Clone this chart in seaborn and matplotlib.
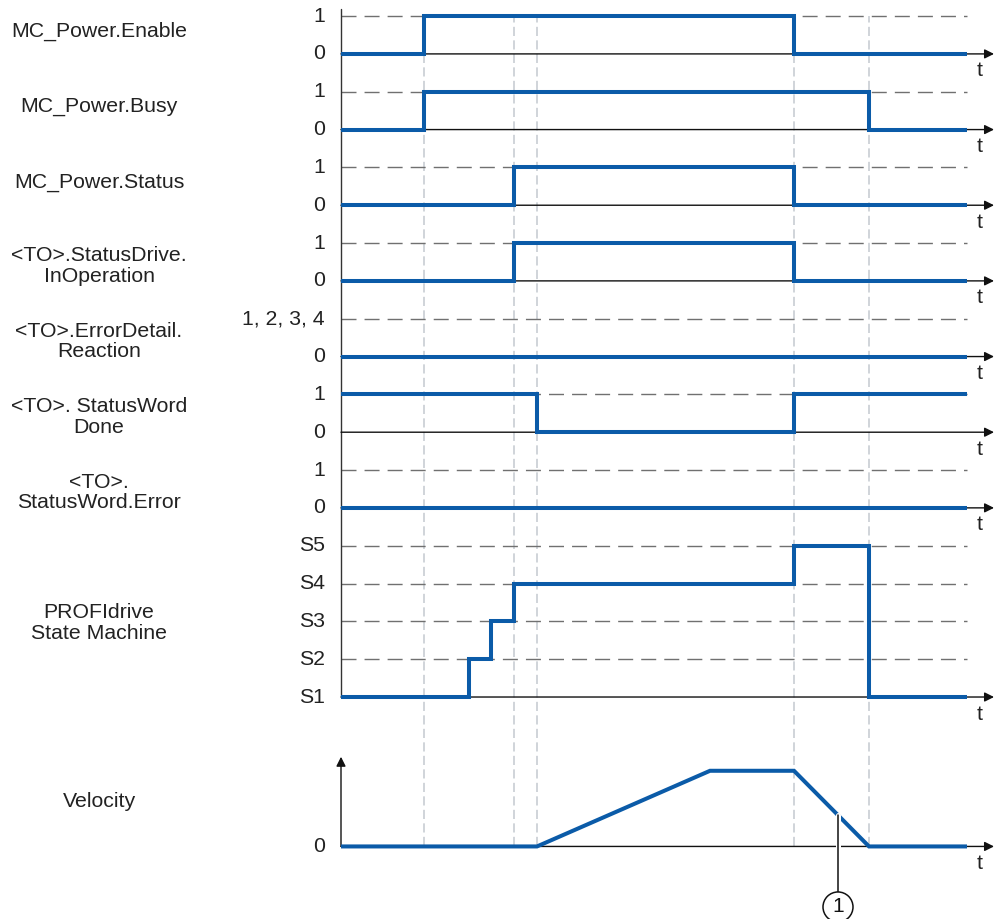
import numpy as np
import matplotlib
matplotlib.use("Agg")
import matplotlib.pyplot as plt
import matplotlib.patheffects as pe
from matplotlib.patches import Ellipse
import seaborn as sns

# ---- signal data -----------------------------------------------------------
# switching instants on the common time axis
times = [0.0, 8.3, 12.8, 15.0, 17.3, 19.6, 36.9, 45.3, 52.8, 62.6]

enable       = [0, 1, 1, 1, 1, 1, 1, 0, 0, 0]
busy         = [0, 1, 1, 1, 1, 1, 1, 1, 0, 0]
status       = [0, 0, 0, 0, 1, 1, 1, 0, 0, 0]
in_operation = [0, 0, 0, 0, 1, 1, 1, 0, 0, 0]
reaction     = [0, 0, 0, 0, 0, 0, 0, 0, 0, 0]
done         = [1, 1, 1, 1, 1, 0, 0, 1, 1, 1]
error        = [0, 0, 0, 0, 0, 0, 0, 0, 0, 0]
drive_state  = [1, 1, 2, 3, 4, 4, 4, 5, 1, 1]   # S1 .. S5

vel_times = [0.0, 19.6, 36.9, 45.3, 52.8, 62.6]
velocity  = [0, 0, 2, 2, 0, 0]

marker_times = [8.3, 17.3, 19.6, 45.3, 52.8]     # guide lines
callout_time = 49.7

binary_labels = ["MC_Power.Enable", "MC_Power.Busy", "MC_Power.Status",
                 "<TO>.StatusDrive.\nInOperation", "<TO>.ErrorDetail.\nReaction",
                 "<TO>. StatusWord\nDone", "<TO>.\nStatusWord.Error"]
binary_values = [enable, busy, status, in_operation, reaction, done, error]
high_ticks = ["1", "1", "1", "1", "1, 2, 3, 4", "1", "1"]
state_ticks = ["S1", "S2", "S3", "S4", "S5"]

# ---- styling ---------------------------------------------------------------
sns.set_style("white")
plt.rcParams["font.family"] = ["Liberation Sans", "DejaVu Sans"]

BLUE = "#0b5ba8"
AXIS = "#333333"
LEVEL = "#707070"
GUIDE = "#c8cdd3"
TEXT = "#222222"
FS = 15.3

fig = plt.figure(figsize=(9.94, 9.19), dpi=100)
ax = fig.add_axes([0, 0, 1, 1])
ax.set_xlim(-34.1, 65.3)
ax.set_ylim(-5.868, 18.425)
ax.axis("off")

t_end = times[-1]
label_x = -24.2
tick_x = -1.6
row_bases = [17, 15, 13, 11, 9, 7, 5]
state_base = 0
vel_base = -3.95
arrow_props = dict(arrowstyle="-|>", color="#111111", lw=1.0,
                   mutation_scale=14, shrinkA=0, shrinkB=0)


def time_axis(y):
    ax.annotate("", xy=(65.3, y), xytext=(0, y), arrowprops=arrow_props,
                zorder=3)
    ax.text(63.9, y - 0.45, "t", fontsize=FS, ha="center", va="center",
            color=TEXT)


# vertical guide lines at the switching instants
for t in marker_times:
    ax.plot([t, t], [vel_base, 18.0], color=GUIDE, lw=1.2,
            dashes=(5.5, 2.6), zorder=1)

# main vertical axis
ax.plot([0, 0], [state_base, 18.18], color=AXIS, lw=1.0, zorder=3)

# binary rows
for name, vals, base, hi in zip(binary_labels, binary_values, row_bases, high_ticks):
    ax.plot([0, t_end], [base + 1, base + 1], color=LEVEL, lw=1.0,
            dashes=(10.8, 5.8), zorder=2)
    time_axis(base)
    sns.lineplot(x=times, y=np.array(vals) + base, drawstyle="steps-post",
                 color=BLUE, lw=2.9, ax=ax, legend=False, zorder=4,
                 solid_joinstyle="miter", solid_capstyle="butt")
    ax.text(tick_x, base + 1, hi, fontsize=FS, ha="right", va="center",
            color=TEXT)
    ax.text(tick_x, base, "0", fontsize=FS, ha="right", va="center",
            color=TEXT)
    dy = 0.6 if "\n" not in name else 0.4
    ax.text(label_x, base + dy, name, fontsize=FS, ha="center", va="center",
            linespacing=1.1, color=TEXT)

# PROFIdrive state machine
for lvl in range(1, len(state_ticks)):
    ax.plot([0, t_end], [state_base + lvl, state_base + lvl], color=LEVEL,
            lw=1.0, dashes=(10.8, 5.8), zorder=2)
for lvl, lab in enumerate(state_ticks):
    ax.text(tick_x, state_base + lvl, lab, fontsize=FS, ha="right",
            va="center", color=TEXT)
time_axis(state_base)
sns.lineplot(x=times, y=np.array(drive_state) - 1 + state_base,
             drawstyle="steps-post", color=BLUE, lw=2.9, ax=ax, legend=False,
             zorder=4, solid_joinstyle="miter", solid_capstyle="butt")
ax.text(label_x, state_base + 1.96, "PROFIdrive\nState Machine", fontsize=FS,
        ha="center", va="center", linespacing=1.1, color=TEXT)

# velocity profile
ax.annotate("", xy=(0, -1.58), xytext=(0, vel_base), arrowprops=arrow_props,
            zorder=3)
time_axis(vel_base)
sns.lineplot(x=vel_times, y=np.array(velocity) + vel_base, color=BLUE, lw=2.9,
             ax=ax, legend=False, zorder=4, solid_joinstyle="miter",
             solid_capstyle="butt")
ax.text(tick_x, vel_base, "0", fontsize=FS, ha="right", va="center",
        color=TEXT)
ax.text(label_x, vel_base + 1.19, "Velocity", fontsize=FS, ha="center",
        va="center", color=TEXT)

# callout (1) on the braking ramp
v_call = np.interp(callout_time, vel_times, velocity) + vel_base
circ_y = -5.55
circ_w = 3.0
circ_h = circ_w * 10 / 37.83          # round in pixel space
ax.plot([callout_time, callout_time], [v_call, circ_y + circ_h / 2],
        color="#111111", lw=1.1, zorder=5,
        path_effects=[pe.Stroke(linewidth=3.6, foreground="white"), pe.Normal()])
ax.add_patch(Ellipse((callout_time, circ_y), width=circ_w, height=circ_h,
                     facecolor="white", edgecolor="#111111", lw=1.1, zorder=5))
ax.text(callout_time, circ_y, "1", fontsize=15, ha="center", va="center",
        color="#111111", zorder=6)

fig.savefig("out.png", dpi=100)
